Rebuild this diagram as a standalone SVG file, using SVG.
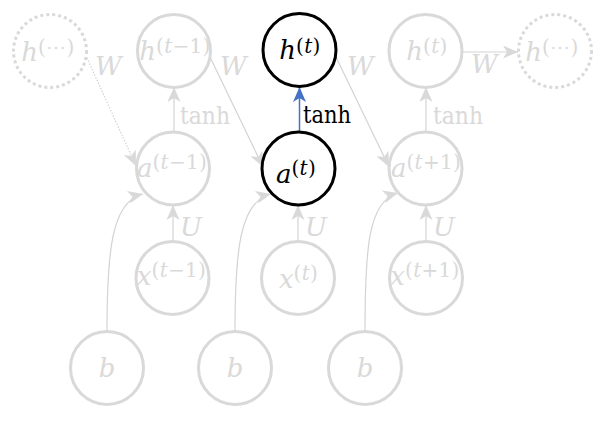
<svg xmlns="http://www.w3.org/2000/svg" width="609" height="426" viewBox="0 0 609 426">
<style>
.n{fill:#fff;stroke:#d9d9d9;stroke-width:3}
.dot{stroke-dasharray:3 3}
.bold{stroke:#000}
.t{font-family:"DejaVu Serif","Liberation Serif",serif;font-size:26px;font-style:italic;fill:#d9d9d9;text-anchor:middle}
.tb{fill:#000}
.s{font-size:20px;font-style:normal;letter-spacing:0.3px}
.s .i{font-style:italic}
.lbl{font-family:"DejaVu Serif","Liberation Serif",serif;font-size:26px;font-style:italic;fill:#d9d9d9}
.fn{font-family:"DejaVu Serif","Liberation Serif",serif;font-size:24px;fill:#d9d9d9}
.c{fill:none;stroke:#d3d3d3;stroke-width:1.2}
</style>
<defs>
<marker id="ag" viewBox="0 0 15 13" refX="15" refY="6.5" markerWidth="15" markerHeight="13" markerUnits="userSpaceOnUse" orient="auto"><path d="M0,0 L15,6.5 L0,13 L4,6.5 Z" fill="#d9d9d9"/></marker>
<marker id="ab" viewBox="0 0 15 13" refX="15" refY="6.5" markerWidth="15" markerHeight="13" markerUnits="userSpaceOnUse" orient="auto"><path d="M0,0 L15,6.5 L0,13 L4,6.5 Z" fill="#4472c4"/></marker>
</defs>
<g id="connectors">
<path class="c" d="M87,58 L136,166" stroke-dasharray="1.5 1.5" marker-end="url(#ag)"/>
<path class="c" d="M210,57 L263,167" marker-end="url(#ag)"/>
<path class="c" d="M336,57 L389,167" marker-end="url(#ag)"/>
<path class="c" d="M463,52 L518,52" marker-end="url(#ag)"/>
<path class="c" d="M174,132 L174,87" marker-end="url(#ag)"/>
<path d="M299.5,132 L299.5,87" fill="none" stroke="#4472c4" stroke-width="1.5" marker-end="url(#ab)"/>
<path class="c" d="M426,132 L426,87" marker-end="url(#ag)"/>
<path class="c" d="M173,241 L173,205" marker-end="url(#ag)"/>
<path class="c" d="M298,241 L298,205" marker-end="url(#ag)"/>
<path class="c" d="M426,241 L426,205" marker-end="url(#ag)"/>
<path class="c" d="M107,331 C107,250 112,201 143,194" marker-end="url(#ag)"/>
<path class="c" d="M235,331 C235,250 240,201 271,194" marker-end="url(#ag)"/>
<path class="c" d="M365,331 C365,250 368,201 398,193" marker-end="url(#ag)"/>
<text class="lbl" x="95" y="75">W</text>
<text class="lbl" x="220" y="75">W</text>
<text class="lbl" x="347" y="75">W</text>
<text class="lbl" x="471" y="73">W</text>
<text class="fn" x="180" y="124" textLength="50" lengthAdjust="spacingAndGlyphs">tanh</text>
<text class="fn" x="303" y="123" textLength="48" lengthAdjust="spacingAndGlyphs" style="fill:#000">tanh</text>
<text class="fn" x="433" y="124" textLength="50" lengthAdjust="spacingAndGlyphs">tanh</text>
<text class="lbl" x="180" y="236">U</text>
<text class="lbl" x="305" y="236">U</text>
<text class="lbl" x="433" y="236">U</text>
</g>
<g id="h_prev_dots"><circle class="n dot" cx="50" cy="51" r="36.5"/><text class="t" x="48" y="61">h<tspan class="s" dy="-7">(⋯)</tspan></text></g>
<g id="h_tm1"><circle class="n" cx="174" cy="51" r="36.5"/><text class="t" x="175" y="60">h<tspan class="s" dy="-7">(<tspan class="i">t</tspan>−1)</tspan></text></g>
<g id="h_t"><circle class="n bold" cx="299.5" cy="50" r="36.5"/><text class="t tb" x="300" y="59">h<tspan class="s" dy="-6">(<tspan class="i">t</tspan>)</tspan></text></g>
<g id="h_tp1"><circle class="n" cx="425.5" cy="51" r="36.5"/><text class="t" x="427" y="60">h<tspan class="s" dy="-7">(<tspan class="i">t</tspan>)</tspan></text></g>
<g id="h_next_dots"><circle class="n dot" cx="555" cy="51" r="36.5"/><text class="t" x="552" y="61">h<tspan class="s" dy="-7">(⋯)</tspan></text></g>
<g id="a_tm1"><circle class="n" cx="173" cy="168.5" r="36.5"/><text class="t" x="172" y="177">a<tspan class="s" dy="-8">(<tspan class="i">t</tspan>−1)</tspan></text></g>
<g id="a_t"><circle class="n bold" cx="298.5" cy="168.5" r="36.5"/><text class="t tb" x="296" y="183">a<tspan class="s" dy="-8">(<tspan class="i">t</tspan>)</tspan></text></g>
<g id="a_tp1"><circle class="n" cx="425.5" cy="168.5" r="36.5"/><text class="t" x="426" y="177">a<tspan class="s" dy="-8">(<tspan class="i">t</tspan>+1)</tspan></text></g>
<g id="x_tm1"><circle class="n" cx="172.5" cy="278" r="36.5"/><text class="t" x="171.5" y="285">x<tspan class="s" dy="-8">(<tspan class="i">t</tspan>−1)</tspan></text></g>
<g id="x_t"><circle class="n" cx="298" cy="278" r="36.5"/><text class="t" x="298.5" y="288">x<tspan class="s" dy="-8">(<tspan class="i">t</tspan>)</tspan></text></g>
<g id="x_tp1"><circle class="n" cx="426" cy="278" r="36.5"/><text class="t" x="425" y="285">x<tspan class="s" dy="-8">(<tspan class="i">t</tspan>+1)</tspan></text></g>
<g id="b1"><circle class="n" cx="107" cy="368" r="36.5"/><text class="t" x="107" y="377">b</text></g>
<g id="b2"><circle class="n" cx="235" cy="368" r="36.5"/><text class="t" x="235" y="377">b</text></g>
<g id="b3"><circle class="n" cx="365" cy="368" r="36.5"/><text class="t" x="365" y="377">b</text></g>
</svg>
